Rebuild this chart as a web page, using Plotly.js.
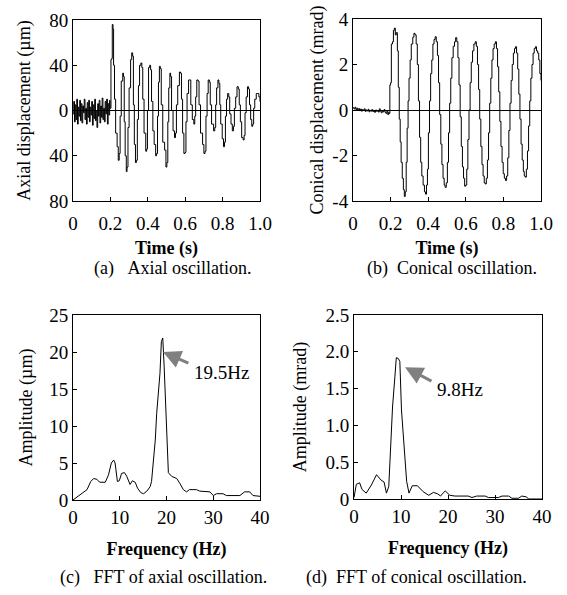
<!DOCTYPE html>
<html>
<head>
<meta charset="utf-8">
<script src="https://cdn.plot.ly/plotly-3.0.1.min.js"></script>
<style>html,body{margin:0;padding:0;background:#fff;}#chart{width:567px;height:595px;}</style>
</head>
<body>
<div id="chart"></div>
<script>
// (a) Axial oscillation: time (s) and displacement (µm)
const axialNoiseT = [0,0.004,0.008,0.012,0.016,0.02,0.024,0.028,0.032,0.036,0.04,0.044,0.048,0.052,0.056,0.06,0.064,0.068,0.072,0.076,0.08,0.084,0.088,0.092,0.096,0.1,0.104,0.108,0.112,0.116,0.12,0.124,0.128,0.132,0.136,0.14,0.144,0.148,0.152,0.156,0.16,0.164,0.168,0.172,0.176,0.18,0.184,0.188,0.192,0.196];
const axialNoiseY = [-3,8,-10,5,-8,10,-12,3,-5,9,-9,6,-11,4,-2,10,-8,2,-12,7,-6,9,-10,3,-4,8,-13,5,-7,10,-9,0,-15,6,-5,9,-11,4,-6,11,-8,2,-10,8,-3,10,-12,6,-4,9];
const axialOscT = [0.198,0.203,0.207,0.210,0.214,0.217,0.222,0.228,0.236,0.242,0.247,0.252,0.258,0.266,0.270,0.274,0.279,0.285,0.289,0.294,0.300,0.308,0.314,0.319,0.323,0.328,0.334,0.339,0.344,0.350,0.356,0.363,0.368,0.373,0.380,0.389,0.394,0.398,0.404,0.410,0.415,0.420,0.427,0.434,0.442,0.447,0.452,0.457,0.462,0.467,0.472,0.480,0.490,0.497,0.502,0.507,0.512,0.518,0.522,0.527,0.535,0.543,0.548,0.553,0.560,0.569,0.575,0.580,0.586,0.593,0.599,0.604,0.610,0.618,0.625,0.630,0.638,0.646,0.651,0.656,0.662,0.669,0.674,0.682,0.693,0.700,0.706,0.711,0.717,0.723,0.729,0.734,0.741,0.752,0.758,0.763,0.768,0.775,0.780,0.785,0.790,0.798,0.805,0.810,0.815,0.821,0.827,0.833,0.838,0.845,0.852,0.858,0.863,0.870,0.877,0.884,0.889,0.895,0.902,0.910,0.915,0.920,0.926,0.933,0.939,0.944,0.950,0.956,0.961,0.966,0.972,0.980,0.988,0.994,1.000];
const axialOscY = [2,45,46,76,72,40,10,-20,-32,-44,-38,-5,26,33,30,-10,-40,-54,-50,-15,20,45,51,48,5,-30,-46,-44,-8,22,40,42,38,10,-20,-36,-34,0,38,40,36,8,-18,-30,-40,-38,-5,25,39,37,5,-28,-35,-50,-46,-10,20,33,30,0,-18,-24,-20,5,22,34,33,10,-20,-38,-37,-10,15,27,27,5,-8,-12,-5,12,27,26,5,-20,-30,-38,-36,-5,15,27,25,5,-12,-18,-15,5,20,27,24,5,-12,-25,-32,-28,-5,10,15,12,-3,-12,-18,-14,2,12,21,19,5,-10,-24,-26,-22,-2,12,21,19,5,-8,-14,-12,2,10,15,15,12,8];

// (b) Conical oscillation: time (s) and displacement (mrad)
const conNoiseT = [0,0.005,0.01,0.015,0.02,0.025,0.03,0.035,0.04,0.045,0.05,0.055,0.06,0.065,0.07,0.075,0.08,0.085,0.09,0.095,0.1,0.105,0.11,0.115,0.12,0.125,0.13,0.135,0.14,0.145,0.15,0.155,0.16,0.165,0.17,0.175,0.18,0.185,0.19];
const conNoiseY = [0.10,0.05,0.12,0.02,0.08,0.0,0.06,-0.03,0.04,-0.05,0.02,-0.02,0.05,-0.06,0.0,-0.04,0.03,-0.08,-0.02,-0.05,0.02,-0.07,-0.03,-0.1,0.0,-0.06,-0.02,-0.09,0.05,-0.05,-0.12,-0.04,-0.08,0.02,-0.1,-0.15,-0.05,-0.2,-0.1];
const conOscT = [0.192,0.196,0.200,0.204,0.210,0.215,0.220,0.225,0.230,0.236,0.241,0.246,0.251,0.256,0.262,0.268,0.273,0.278,0.283,0.288,0.293,0.298,0.304,0.310,0.318,0.324,0.330,0.336,0.342,0.348,0.354,0.360,0.366,0.373,0.380,0.386,0.391,0.396,0.401,0.407,0.413,0.419,0.425,0.431,0.437,0.443,0.449,0.455,0.461,0.467,0.473,0.479,0.485,0.490,0.496,0.502,0.508,0.514,0.520,0.526,0.533,0.540,0.546,0.552,0.558,0.564,0.570,0.576,0.582,0.588,0.594,0.599,0.605,0.611,0.617,0.623,0.629,0.636,0.643,0.650,0.656,0.662,0.668,0.674,0.680,0.686,0.692,0.698,0.703,0.709,0.715,0.721,0.727,0.733,0.739,0.745,0.751,0.757,0.763,0.769,0.775,0.781,0.787,0.793,0.799,0.805,0.811,0.817,0.823,0.829,0.835,0.841,0.847,0.853,0.859,0.864,0.870,0.876,0.882,0.888,0.894,0.900,0.906,0.911,0.916,0.922,0.928,0.934,0.940,0.946,0.952,0.958,0.964,0.970,0.976,0.982,0.988,0.994,1.000];
const conOscY = [-0.15,1.1,1.2,2.9,3.0,3.5,3.6,3.3,3.4,2.6,1.0,-0.4,-1.4,-2.3,-3.0,-3.5,-3.8,-3.6,-2.3,-0.8,0.4,1.4,2.2,2.9,3.2,3.37,3.3,2.9,2.0,0.4,-1.2,-2.3,-2.9,-3.3,-3.6,-3.7,-3.3,-2.6,-1.0,0.4,1.6,2.2,2.9,3.1,3.22,3.0,2.4,1.2,-0.2,-1.5,-2.4,-3.0,-3.3,-3.4,-3.2,-2.3,-1.0,0.3,1.4,2.3,2.8,3.0,3.18,3.0,2.3,1.1,-0.3,-1.6,-2.5,-3.0,-3.35,-3.3,-2.6,-1.3,0.0,1.2,2.1,2.6,2.9,3.0,2.8,2.0,0.9,-0.4,-1.6,-2.4,-2.9,-3.2,-3.25,-3.0,-2.2,-1.0,0.3,1.4,2.2,2.7,2.9,3.0,2.7,1.9,0.8,-0.5,-1.6,-2.3,-2.8,-3.0,-3.1,-2.9,-2.1,-0.9,0.3,1.3,2.0,2.5,2.7,2.78,2.5,1.8,0.7,-0.4,-1.5,-2.2,-2.7,-2.9,-2.95,-2.6,-1.8,-0.7,0.4,1.4,2.0,2.5,2.7,2.78,2.6,2.5,2.2,1.6,1.3];

// (c) FFT of axial oscillation: frequency (Hz), amplitude (µm)
const fftAxF = [0,3.0,3.8,4.4,5.1,5.7,6.9,7.6,8.2,8.7,9.0,9.5,9.9,10.4,11.0,11.5,12.2,12.7,13.3,13.8,14.5,15.1,15.8,16.5,16.8,17.2,17.6,17.9,18.3,18.6,18.9,19.2,19.5,20.0,20.4,21.1,22.2,22.9,23.6,24.3,24.9,26.4,27.1,29.3,30.0,30.7,32.1,32.8,35.7,36.7,37.8,38.5,40];
const fftAxA = [0,1.4,2.5,2.9,2.8,2.4,2.4,3.4,5.0,5.4,5.0,2.5,2.6,3.6,3.7,3.2,2.1,2.6,2.4,1.6,1.0,0.85,1.2,1.8,2.5,5.0,8.1,11.7,14.7,17.1,21.4,21.9,18.0,9.9,3.7,3.2,2.9,2.2,1.4,1.1,1.4,1.4,1.2,1.1,0.6,0.85,0.85,0.6,0.6,1.1,1.1,0.6,0.5];

// (d) FFT of conical oscillation: frequency (Hz), amplitude (mrad)
const fftConF = [0,0.5,1.2,1.7,2.6,3.7,4.8,5.7,6.4,6.9,7.4,7.8,8.2,8.7,9.0,9.4,9.75,10.1,10.7,11.2,11.7,12.4,13.5,14.7,15.9,16.9,17.8,18.4,19.4,20.4,21.5,24.3,25.1,26.1,27.9,28.6,30.7,31.5,32.9,33.6,35.0,35.7,36.6,37.2,40];
const fftConA = [0.02,0.2,0.22,0.13,0.08,0.19,0.33,0.26,0.23,0.08,0.17,0.71,1.25,1.66,1.92,1.91,1.87,1.21,0.62,0.24,0.08,0.18,0.18,0.1,0.05,0.09,0.07,0.04,0.11,0.05,0.04,0.04,0.02,0.04,0.04,0.02,0.02,0.04,0.04,0.01,0.01,0.04,0.03,0,0];

// Tick labels
const timeTicks = [0, 0.2, 0.4, 0.6, 0.8, 1.0];
const timeText = ['0', '0.2', '0.4', '0.6', '0.8', '1.0'];
const freqTicks = [0, 10, 20, 30, 40];
const axialTicks = [-80, -40, 0, 40, 80];
const axialText = ['80', '40', '0', '40', '80'];
const conTicks = [-4, -2, 0, 2, 4];
const conText = ['-4', '-2', '0', '2', '4'];
const ampAxTicks = [0, 5, 10, 15, 20, 25];
const ampConTicks = [0, 0.5, 1, 1.5, 2, 2.5];
const ampConText = ['0', '0.5', '1.0', '1.5', '2.0', '2.5'];

const FONT = '"Liberation Serif", "Times New Roman", serif';
const line = {color: '#000', width: 1};

const traces = [
  {x: axialNoiseT.concat(axialOscT), y: axialNoiseY.concat(axialOscY), xaxis: 'x', yaxis: 'y', type: 'scatter', mode: 'lines', line: Object.assign({shape: 'hv'}, line), hoverinfo: 'skip'},
  {x: conNoiseT.concat(conOscT), y: conNoiseY.concat(conOscY), xaxis: 'x2', yaxis: 'y2', type: 'scatter', mode: 'lines', line: Object.assign({shape: 'hv'}, line), hoverinfo: 'skip'},
  {x: fftAxF, y: fftAxA, xaxis: 'x3', yaxis: 'y3', type: 'scatter', mode: 'lines', line: line, hoverinfo: 'skip'},
  {x: fftConF, y: fftConA, xaxis: 'x4', yaxis: 'y4', type: 'scatter', mode: 'lines', line: line, hoverinfo: 'skip'}
];

function ax(extra) {
  return Object.assign({
    showline: true, mirror: true, linecolor: '#000', linewidth: 1,
    showgrid: false, zeroline: false,
    ticks: 'inside', ticklen: 4, tickcolor: '#000',
    tickfont: {family: FONT, size: 19, color: '#000'},
    fixedrange: true
  }, extra);
}

const W = 567, H = 595;
const xTitle = (t, s) => ({text: t, font: {family: FONT, size: 18, color: '#000', weight: 'bold'}, standoff: s});
const yTitle = (t, s) => ({text: t, font: {family: FONT, size: 18, color: '#000'}, standoff: s});
const capFont = {family: FONT, size: 18, color: '#000'};
const txtFont = {family: FONT, size: 19, color: '#000'};

const layout = {
  width: W, height: H,
  margin: {l: 0, r: 0, t: 0, b: 0},
  paper_bgcolor: '#fff', plot_bgcolor: '#fff',
  showlegend: false,
  font: {family: FONT, color: '#000'},
  xaxis: ax({domain: [73/W, 260/W], range: [0, 1], anchor: 'y', tickvals: timeTicks, ticktext: timeText, ticklabelstandoff: 5, title: xTitle('Time (s)', 8)}),
  yaxis: ax({domain: [1-201/H, 1-20/H], range: [-80, 80], anchor: 'x', tickvals: axialTicks, ticktext: axialText, zeroline: true, zerolinecolor: '#000', zerolinewidth: 1, title: yTitle('Axial displacement (µm)', 13)}),
  xaxis2: ax({domain: [353/W, 541/W], range: [0, 1], anchor: 'y2', tickvals: timeTicks, ticktext: timeText, ticklabelstandoff: 5, title: xTitle('Time (s)', 8)}),
  yaxis2: ax({domain: [1-201/H, 1-19/H], range: [-4, 4], anchor: 'x2', tickvals: conTicks, ticktext: conText, zeroline: true, zerolinecolor: '#000', zerolinewidth: 1, title: yTitle('Conical displacement (mrad)', 4)}),
  xaxis3: ax({domain: [73/W, 260/W], range: [0, 40], anchor: 'y3', tickvals: freqTicks, title: xTitle('Frequency (Hz)', 15)}),
  yaxis3: ax({domain: [1-500/H, 1-315/H], range: [0, 25], anchor: 'x3', tickvals: ampAxTicks, title: yTitle('Amplitude (µm)', 11)}),
  xaxis4: ax({domain: [354/W, 542/W], range: [0, 40], anchor: 'y4', tickvals: freqTicks, title: xTitle('Frequency (Hz)', 15)}),
  yaxis4: ax({domain: [1-499/H, 1-315/H], range: [0, 2.5], anchor: 'x4', tickvals: ampConTicks, ticktext: ampConText, title: yTitle('Amplitude (mrad)', 14)}),
  annotations: [
    {xref: 'x3', yref: 'y3', x: 19.25, y: 20.0, axref: 'x3', ayref: 'y3', ax: 25.0, ay: 18.4, text: '', showarrow: true, arrowcolor: '#808080', arrowwidth: 3, arrowhead: 2, arrowsize: 1.2},
    {xref: 'x3', yref: 'y3', x: 31.7, y: 17.2, xanchor: 'center', yanchor: 'middle', text: '19.5Hz', showarrow: false, font: txtFont},
    {xref: 'x4', yref: 'y4', x: 10.85, y: 1.79, axref: 'x4', ayref: 'y4', ax: 16.8, ay: 1.59, text: '', showarrow: true, arrowcolor: '#808080', arrowwidth: 3, arrowhead: 2, arrowsize: 1.2},
    {xref: 'x4', yref: 'y4', x: 22.55, y: 1.49, xanchor: 'center', yanchor: 'middle', text: '9.8Hz', showarrow: false, font: txtFont},
    {xref: 'paper', yref: 'paper', x: 172/W, y: 1-268/H, xanchor: 'center', yanchor: 'middle', text: '(a)&nbsp;&nbsp;&nbsp;Axial oscillation.', showarrow: false, font: capFont},
    {xref: 'paper', yref: 'paper', x: 452/W, y: 1-268/H, xanchor: 'center', yanchor: 'middle', text: '(b)&nbsp;&nbsp;Conical oscillation.', showarrow: false, font: capFont},
    {xref: 'paper', yref: 'paper', x: 163/W, y: 1-577/H, xanchor: 'center', yanchor: 'middle', text: '(c)&nbsp;&nbsp;&nbsp;FFT of axial oscillation.', showarrow: false, font: capFont},
    {xref: 'paper', yref: 'paper', x: 416/W, y: 1-577/H, xanchor: 'center', yanchor: 'middle', text: '(d)&nbsp;&nbsp;FFT of conical oscillation.', showarrow: false, font: capFont}
  ]
};

Plotly.newPlot('chart', traces, layout, {staticPlot: true, displayModeBar: false});
</script>
</body>
</html>
